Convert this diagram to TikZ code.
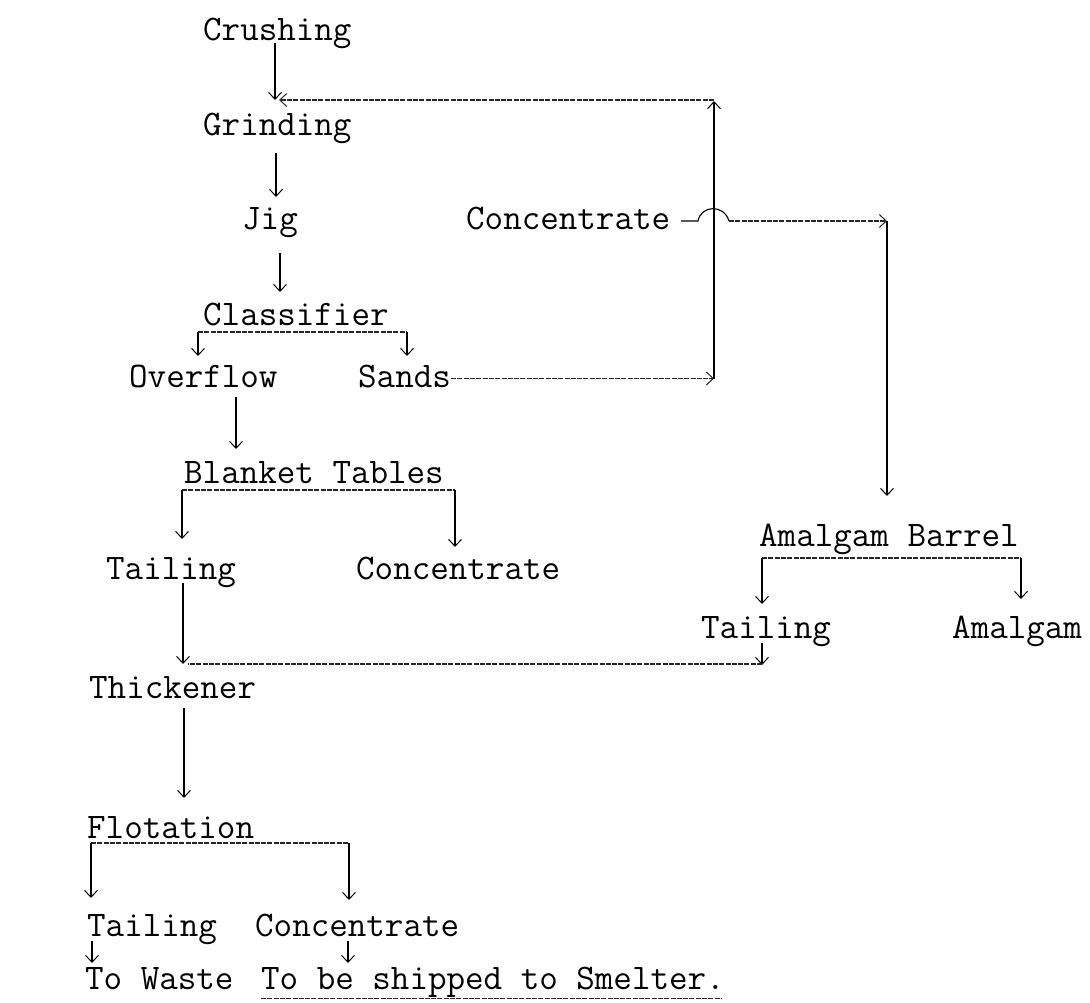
\documentclass[tikz,border=0pt]{standalone}
\usepackage{fontspec}
\usetikzlibrary{arrows.meta}
\begin{document}
\begin{tikzpicture}[x=1pt,y=-1pt,
 lbl/.style={font=\ttfamily\fontsize{36}{40}\selectfont,anchor=base west,inner sep=0pt,text height=22pt,text depth=5pt},
 tip/.style={-{Straight Barb[length=7pt,width=13pt,line width=1pt]}},
 sline/.style={line width=1.1pt,black},
 dline/.style={line width=1.1pt,black!85,dash pattern=on 5pt off 1.3pt},
]
\useasboundingbox[fill=white] (0,0) rectangle (1090,1002);

% ---- text nodes
\node[lbl] (crush)  at (203,40)  {Crushing};
\node[lbl] (grind)  at (203,135) {Grinding};
\node[lbl] (jig)    at (242,229) {Jig};
\node[lbl] (conc1)  at (466,229) {Concentrate};
\node[lbl] (class)  at (203,325) {Classifier};
\node[lbl] (over)   at (129,387) {Overflow};
\node[lbl] (sands)  at (358,387) {Sands};
\node[lbl] (blank)  at (184,483) {Blanket Tables};
\node[lbl] (tail1)  at (106,579) {Tailing};
\node[lbl] (conc2)  at (356,579) {Concentrate};
\node[lbl] (amb)    at (759,546) {Amalgam Barrel};
\node[lbl] (tail2)  at (701,638) {Tailing};
\node[lbl] (amal)   at (952,638) {Amalgam};
\node[lbl] (thick)  at (89,698)  {Thickener};
\node[lbl] (flot)   at (87,838)  {Flotation};
\node[lbl] (tail3)  at (87,936)  {Tailing};
\node[lbl] (conc3)  at (255,936) {Concentrate};
\node[lbl] (waste)  at (85,989)  {To Waste};
\node[lbl] (ship)   at (261,989) {To be shipped to Smelter.};

% ---- junction coordinates
\coordinate (cgA) at (275,43);   \coordinate (cgB) at (275,100);
\coordinate (gjA) at (276,153);  \coordinate (gjB) at (276,197);
\coordinate (jcA) at (280,253);  \coordinate (jcB) at (280,292);
\coordinate (clL) at (198,332);  \coordinate (clR) at (407,332);
\coordinate (ovL) at (198,356);  \coordinate (saT) at (407,356);
\coordinate (rtB) at (714,376);  \coordinate (rtT) at (714,101);
\coordinate (rtE) at (279,100);
\coordinate (hpA) at (681,221);  \coordinate (hpB) at (698,221);
\coordinate (hpC) at (729,221);  \coordinate (abC) at (887,221);
\coordinate (abT) at (887,496);
\coordinate (obA) at (236,397);  \coordinate (obB) at (236,449);
\coordinate (btL) at (182,490);  \coordinate (btR) at (455,490);
\coordinate (btLt) at (182,539); \coordinate (btRt) at (455,547);
\coordinate (t1A) at (183,583);  \coordinate (t1B) at (183,664);
\coordinate (t2A) at (762,643);  \coordinate (t2B) at (762,665);
\coordinate (t2L) at (188,664);
\coordinate (abL) at (762,558);  \coordinate (abR) at (1021,558);
\coordinate (abLt) at (762,604); \coordinate (abRt) at (1021,599);
\coordinate (tfA) at (184,708);  \coordinate (tfB) at (184,798);
\coordinate (flL) at (91,843);   \coordinate (flR) at (349,843);
\coordinate (flLt) at (91,898);  \coordinate (flRt) at (349,900);
\coordinate (wA) at (92,941);    \coordinate (wB) at (92,963);
\coordinate (sA) at (348,941);   \coordinate (sB) at (348,963);
\coordinate (ulA) at (261,998);  \coordinate (ulB) at (722,998);

% ---- main column
\draw[sline,tip] (cgA) -- (cgB);
\draw[sline,tip] (gjA) -- (gjB);
\draw[sline,tip] (jcA) -- (jcB);

% classifier split
\draw[dline] (clL) -- (clR);
\draw[sline,tip] (clL) -- (ovL);
\draw[sline,tip] (clR) -- (saT);

% sands return to grinding
\draw[dline,tip] (sands.east) -- (sands.east -| rtB);
\draw[sline,tip] (sands.east -| rtB) -- (rtT);
\draw[dline,tip] (rtT |- rtE) -- (rtE);

% upper concentrate to amalgam barrel (hop over return line)
\draw[sline] (hpA) -- (hpB) .. controls (701,205) and (724,204) .. (hpC);
\draw[dline,tip] (hpC) -- (abC);
\draw[sline,tip] (abC) -- (abT);

% overflow -> blanket tables
\draw[sline,tip] (obA) -- (obB);
\draw[dline] (btL) -- (btR);
\draw[sline,tip] (btL) -- (btLt);
\draw[sline,tip] (btR) -- (btRt);

% tailings to thickener
\draw[sline,tip] (t1A) -- (t1B);
\draw[sline,tip] (t2A) -- (t2B);
\draw[dline] (t2B |- t1B) -- (t2L);

% amalgam barrel split
\draw[dline] (abL) -- (abR);
\draw[sline,tip] (abL) -- (abLt);
\draw[sline,tip] (abR) -- (abRt);

% thickener -> flotation
\draw[sline,tip] (tfA) -- (tfB);
\draw[dline] (flL) -- (flR);
\draw[sline,tip] (flL) -- (flLt);
\draw[sline,tip] (flR) -- (flRt);
\draw[sline,tip] (wA) -- (wB);
\draw[sline,tip] (sA) -- (sB);

% underline
\draw[dline,line width=0.9pt] (ulA) -- (ulB);
\end{tikzpicture}
\end{document}
